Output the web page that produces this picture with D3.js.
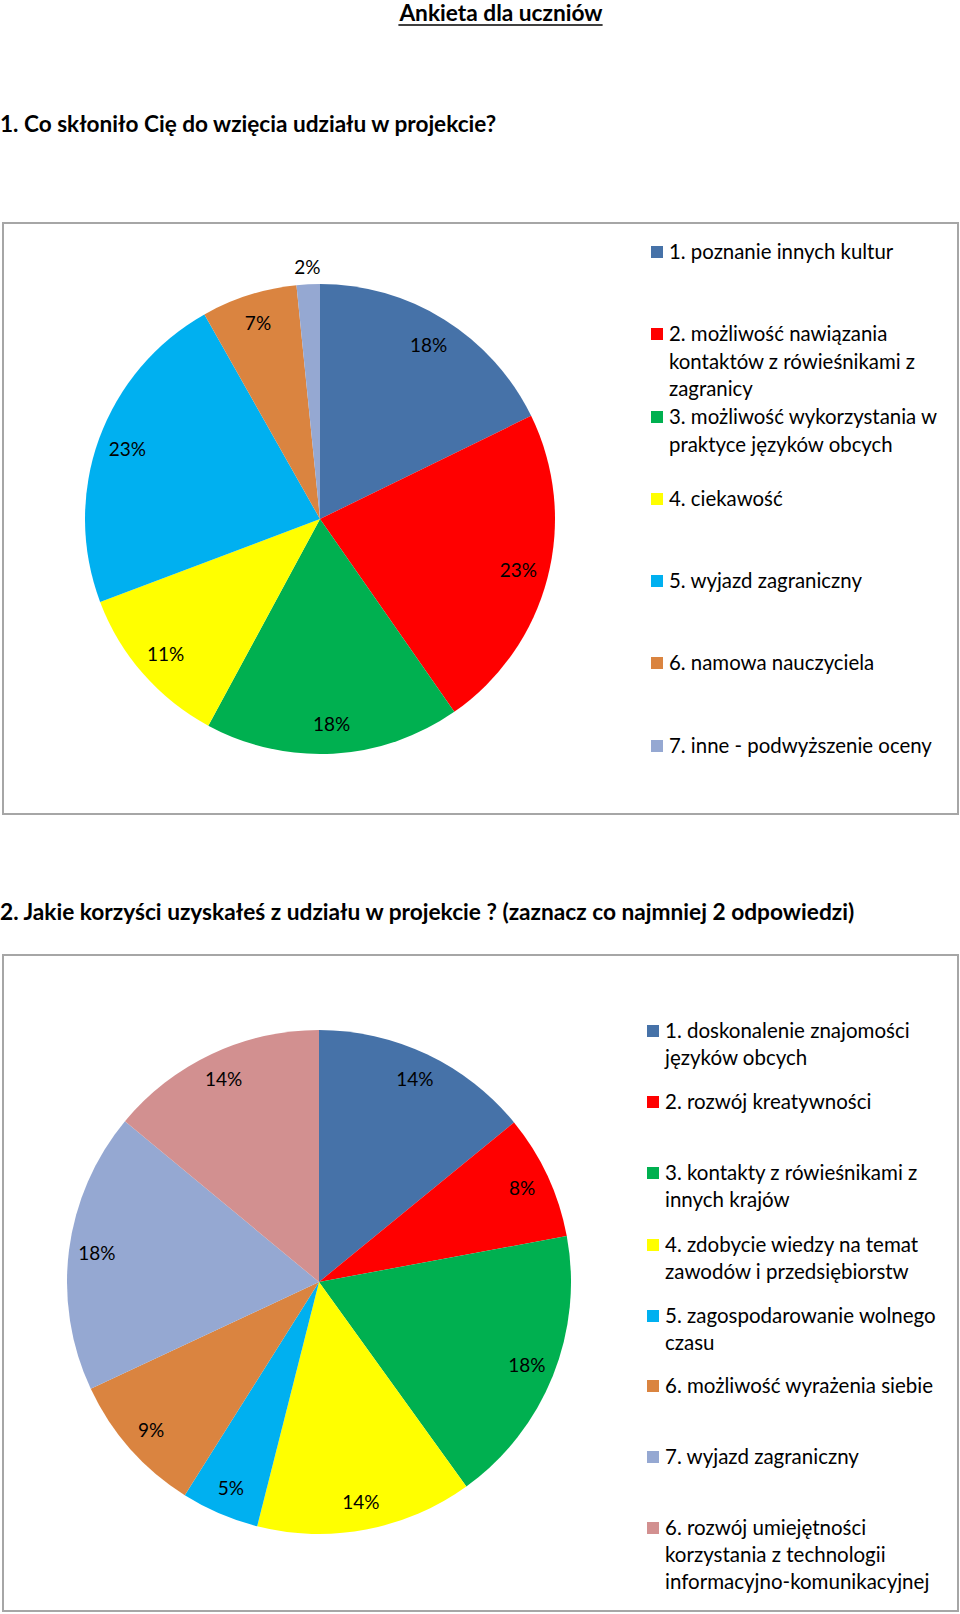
<!DOCTYPE html>
<html><head><meta charset="utf-8">
<script src="https://cdn.jsdelivr.net/npm/d3@7"></script>
<style>
html,body{margin:0;padding:0;background:#fff;}
svg text{font-family:Lato,"Noto Sans",sans-serif;fill:#000;}
</style></head>
<body>
<svg id="chart" width="960" height="1614"></svg>
<script>
// Chart 1 data
const categories1 = ["1. poznanie innych kultur",
  "2. możliwość nawiązania|kontaktów z rówieśnikami z|zagranicy",
  "3. możliwość wykorzystania w|praktyce języków obcych",
  "4. ciekawość","5. wyjazd zagraniczny","6. namowa nauczyciela",
  "7. inne - podwyższenie oceny"];
const values1 = [17.8, 22.6, 17.6, 11.4, 22.6, 6.6, 1.6];
const labels1 = ["18%","23%","18%","11%","23%","7%","2%"];
const legendY1 = [252, 334, 417, 499, 581, 663, 746];

// Chart 2 data
const categories2 = ["1. doskonalenie znajomości|języków obcych",
  "2. rozwój kreatywności",
  "3. kontakty z rówieśnikami z|innych krajów",
  "4. zdobycie wiedzy na temat|zawodów i przedsiębiorstw",
  "5. zagospodarowanie wolnego|czasu",
  "6. możliwość wyrażenia siebie",
  "7. wyjazd zagraniczny",
  "6. rozwój umiejętności|korzystania z technologii|informacyjno-komunikacyjnej"];
const values2 = [14.1, 8.0, 18.0, 13.9, 5.0, 9.1, 18.0, 14.0];
const labels2 = ["14%","8%","18%","14%","5%","9%","18%","14%"];
const legendY2 = [1031, 1102, 1173, 1245, 1316, 1386, 1457, 1528];

const colors1 = ["#4672A8","#FF0000","#00B050","#FFFF00","#00B0F0","#DA8440","#95A8D2"];
const colors2 = ["#4672A8","#FF0000","#00B050","#FFFF00","#00B0F0","#DA8440","#95A8D2","#D29090"];

const svg = d3.select("#chart");

// Title
const title = svg.append("text").attr("x", 501).attr("y", 21)
  .attr("text-anchor","middle").attr("font-weight","bold").attr("font-size", 22.7)
  .text("Ankieta dla uczniów");
const tb = title.node().getBBox();
svg.append("line").attr("x1", tb.x).attr("x2", tb.x + tb.width)
  .attr("y1", 25).attr("y2", 25).attr("stroke","#000").attr("stroke-width",1.5);

svg.append("text").attr("x", 0).attr("y", 132).attr("font-weight","bold").attr("font-size", 22.6)
  .text("1. Co skłoniło Cię do wzięcia udziału w projekcie?");
svg.append("text").attr("x", 0).attr("y", 920).attr("font-weight","bold").attr("font-size", 22.7)
  .text("2. Jakie korzyści uzyskałeś z udziału w projekcie ? (zaznacz co najmniej 2 odpowiedzi)");

// Boxes
svg.append("rect").attr("x",3).attr("y",223).attr("width",955).attr("height",591)
  .attr("fill","none").attr("stroke","#a6a6a6").attr("stroke-width",2);
svg.append("rect").attr("x",3).attr("y",955).attr("width",955).attr("height",656)
  .attr("fill","none").attr("stroke","#a6a6a6").attr("stroke-width",2);

function drawPie(cx, cy, r, values, colors, labels, labelR, outsideIdx, outsideR) {
  const g = svg.append("g").attr("transform", `translate(${cx},${cy})`);
  const pie = d3.pie().sort(null).value(d => d);
  const arcs = pie(values);
  const arc = d3.arc().innerRadius(0).outerRadius(r);
  g.selectAll("path").data(arcs).join("path")
    .attr("d", arc).attr("fill", (d,i) => colors[i]);
  g.selectAll("text.lbl").data(arcs).join("text").attr("class","lbl")
    .attr("transform", (d,i) => {
      const a = (d.startAngle + d.endAngle)/2;
      const rr = outsideIdx.includes(i) ? outsideR : labelR;
      return `translate(${Math.sin(a)*rr},${-Math.cos(a)*rr})`;
    })
    .attr("text-anchor","middle").attr("dy","0.36em").attr("font-size", 19)
    .text((d,i) => labels[i]);
}

drawPie(320, 519, 235, values1, colors1, labels1, 205, [6], 252);
drawPie(319, 1282, 252, values2, colors2, labels2, 224, [], 0);

function drawLegend(cats, colors, ys, sqX, txtX, lh, fs) {
  const g = svg.append("g");
  cats.forEach((c, i) => {
    const y = ys[i];
    g.append("rect").attr("x", sqX).attr("y", y - 6).attr("width", 12).attr("height", 12)
      .attr("fill", colors[i]);
    c.split("|").forEach((line, j) => {
      g.append("text").attr("x", txtX).attr("y", y + j*lh).attr("dy","0.36em")
        .attr("font-size", fs).text(line);
    });
  });
}
drawLegend(categories1, colors1, legendY1, 651, 669, 27.3, 20.4);
drawLegend(categories2, colors2, legendY2, 647, 665, 27, 20.5);
</script>
</body></html>
